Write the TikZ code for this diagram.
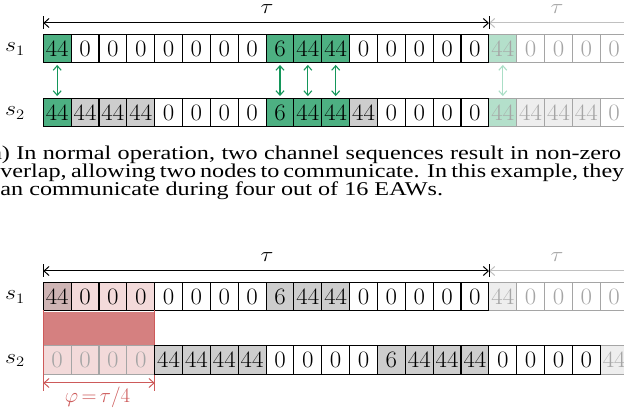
\documentclass[tikz,border=0pt]{standalone}
\usepackage{graphicx}
\usepackage{fontspec}
\newfontfamily\capfont[FakeStretch=1.24]{Liberation Serif}
\newfontfamily\cellfont[FakeStretch=1.06]{Latin Modern Roman}
\usetikzlibrary{arrows.meta}
\definecolor{cgreen}{RGB}{77,176,130}
\definecolor{cgreenf}{RGB}{180,224,203}
\definecolor{cgarrow}{RGB}{20,150,90}
\definecolor{cgarrowf}{RGB}{170,222,198}
\definecolor{cgray}{RGB}{205,205,205}
\definecolor{cgrayf}{RGB}{238,238,238}
\definecolor{cfade}{RGB}{165,165,165}
\definecolor{cpink}{RGB}{243,218,218}
\definecolor{cpinkd}{RGB}{206,180,180}
\definecolor{credbox}{RGB}{213,128,128}
\definecolor{cred}{RGB}{205,90,90}
\newcommand{\wide}[1]{\scalebox{1.15}[1]{#1}}
\tikzset{
  cell/.style={draw=black, line width=1.1pt, minimum width=27.85pt, minimum height=28.2pt,
    inner sep=0pt, fill=white, font=\cellfont\fontsize{23.5}{23.5}\selectfont},
  wcell/.style={cell},
  gcell/.style={cell, fill=cgreen},
  grcell/.style={cell, fill=cgray},
  pcell/.style={cell, fill=cpink},
  pdcell/.style={cell, fill=cpinkd},
  fwhite/.style={cell, draw=cfade, text=cfade},
  fgreen/.style={fwhite, fill=cgreenf},
  fgray/.style={fwhite, fill=cgrayf},
  fpink/.style={fwhite, fill=cpink},
  lbl/.style={font=\fontsize{20}{20}\selectfont, inner sep=0pt},
  plbl/.style={font=\fontsize{20.74}{20.74}\selectfont, inner sep=0pt},
  captext/.style={font=\capfont\fontsize{19.5}{19.5}\selectfont, inner sep=0pt, anchor=base west},
  span/.style={line width=1pt, {Straight Barb[length=5pt,width=9pt]}-{Straight Barb[length=5pt,width=9pt]}},
  fspan/.style={line width=1pt, draw=cfade!70, {Straight Barb[length=5pt,width=9pt]}-},
  garrow/.style={line width=1.1pt, draw=cgarrow, {Straight Barb[length=4.5pt,width=8pt]}-{Straight Barb[length=4.5pt,width=8pt]}, shorten <=1.8pt, shorten >=1.8pt},
  fgarrow/.style={garrow, draw=cgarrowf},
  bar/.style={line width=1pt},
}
\begin{document}
\begin{tikzpicture}[x=1pt,y=-1pt]
\useasboundingbox (0,0) rectangle (624,411);
\clip (0,0) rectangle (624,411);
% ---------- top diagram ----------
\coordinate (tl1) at (43.3,23);
\coordinate (tr1) at (489,23);
\coordinate (tg1) at (935,23);
\draw[fspan] (tr1) -- (tg1);
\draw[span] (tl1) -- (tr1);
\draw[bar] (43.3,16.5) -- (43.3,29.5);
\draw[bar] (489,16.5) -- (489,29.5);
\node[lbl] (tau1) at (267,9) {\wide{$\tau$}};
\node[lbl, text=cfade] (tau1g) at (557,9) {\wide{$\tau$}};
\node[lbl] (sa1) at (15,49) {\wide{$s_1$}};
\node[lbl] (sa2) at (15,113) {\wide{$s_2$}};
\foreach \i/\v/\s in {16/44/fgreen,17/0/fwhite,18/0/fwhite,19/0/fwhite,20/0/fwhite}
  \node[\s] (a1-\i) at ({57.2+27.85*\i},48.5) {\v};
\foreach \i/\v/\s in {0/44/gcell,1/0/wcell,2/0/wcell,3/0/wcell,4/0/wcell,5/0/wcell,6/0/wcell,7/0/wcell,
  8/6/gcell,9/44/gcell,10/44/gcell,11/0/wcell,12/0/wcell,13/0/wcell,14/0/wcell,15/0/wcell}
  \node[\s] (a1-\i) at ({57.2+27.85*\i},48.5) {\v};
\foreach \i/\v/\s in {16/44/fgreen,17/44/fgray,18/44/fgray,19/44/fgray,20/0/fwhite}
  \node[\s] (a2-\i) at ({57.2+27.85*\i},112.5) {\v};
\foreach \i/\v/\s in {0/44/gcell,1/44/grcell,2/44/grcell,3/44/grcell,4/0/wcell,5/0/wcell,6/0/wcell,7/0/wcell,
  8/6/gcell,9/44/gcell,10/44/gcell,11/44/grcell,12/0/wcell,13/0/wcell,14/0/wcell,15/0/wcell}
  \node[\s] (a2-\i) at ({57.2+27.85*\i},112.5) {\v};
\foreach \i in {0,8,9,10}
  \draw[garrow] (a1-\i.south) -- (a2-\i.north);
\draw[fgarrow] (a1-16.south) -- (a2-16.north);
% ---------- caption ----------
\node[captext] (c1) at (-17,159.5) {\makebox[638pt][s]{(a) In normal operation, two channel sequences result in non-zero}};
\node[captext] (c2) at (-12,177.5) {\makebox[633pt][s]{overlap, allowing two nodes to communicate. In this example, they}};
\node[captext] (c3) at (-10.5,195.5) {can communicate during four out of 16 EAWs.};
% ---------- bottom diagram ----------
\coordinate (tl2) at (43.3,271);
\coordinate (tr2) at (489,271);
\coordinate (tg2) at (935,271);
\draw[fspan] (tr2) -- (tg2);
\draw[span] (tl2) -- (tr2);
\draw[bar] (43.3,264.5) -- (43.3,277.5);
\draw[bar] (489,264.5) -- (489,277.5);
\node[lbl] (tau2) at (267,257) {\wide{$\tau$}};
\node[lbl, text=cfade] (tau2g) at (557,257) {\wide{$\tau$}};
\node[lbl] (sb1) at (15,297) {\wide{$s_1$}};
\node[lbl] (sb2) at (15,360.5) {\wide{$s_2$}};
\foreach \i/\v/\s in {16/44/fgray,17/0/fwhite,18/0/fwhite,19/0/fwhite,20/0/fwhite}
  \node[\s] (b1-\i) at ({57.2+27.85*\i},296.5) {\v};
\foreach \i/\v/\s in {0/44/pdcell,1/0/pcell,2/0/pcell,3/0/pcell,4/0/wcell,5/0/wcell,6/0/wcell,7/0/wcell,
  8/6/grcell,9/44/grcell,10/44/grcell,11/0/wcell,12/0/wcell,13/0/wcell,14/0/wcell,15/0/wcell}
  \node[\s] (b1-\i) at ({57.2+27.85*\i},296.5) {\v};
\foreach \i/\v/\s in {0/0/fpink,1/0/fpink,2/0/fpink,3/0/fpink,20/44/fgray}
  \node[\s] (b2-\i) at ({57.2+27.85*\i},360) {\v};
\fill[credbox] ([yshift=-0.55pt]b1-0.south west) rectangle ([yshift=0.55pt]b2-3.north east);
\coordinate (pl) at (43.3,383);
\coordinate (pr) at (154.7,383);
\draw[cred, line width=0.9pt] (43.3,310) -- (43.3,391);
\draw[cred, line width=0.9pt] (154.7,310) -- (154.7,391);
\foreach \i/\v/\s in {4/44/grcell,5/44/grcell,6/44/grcell,7/44/grcell,8/0/wcell,9/0/wcell,10/0/wcell,11/0/wcell,
  12/6/grcell,13/44/grcell,14/44/grcell,15/44/grcell,16/0/wcell,17/0/wcell,18/0/wcell,19/0/wcell}
  \node[\s] (b2-\i) at ({57.2+27.85*\i},360) {\v};
\draw[span, draw=cred] (pl) -- (pr);
\node[plbl, text=cred] (phi) at (97.5,397) {$\varphi\,{=}\,\tau/4$};
\end{tikzpicture}
\end{document}
